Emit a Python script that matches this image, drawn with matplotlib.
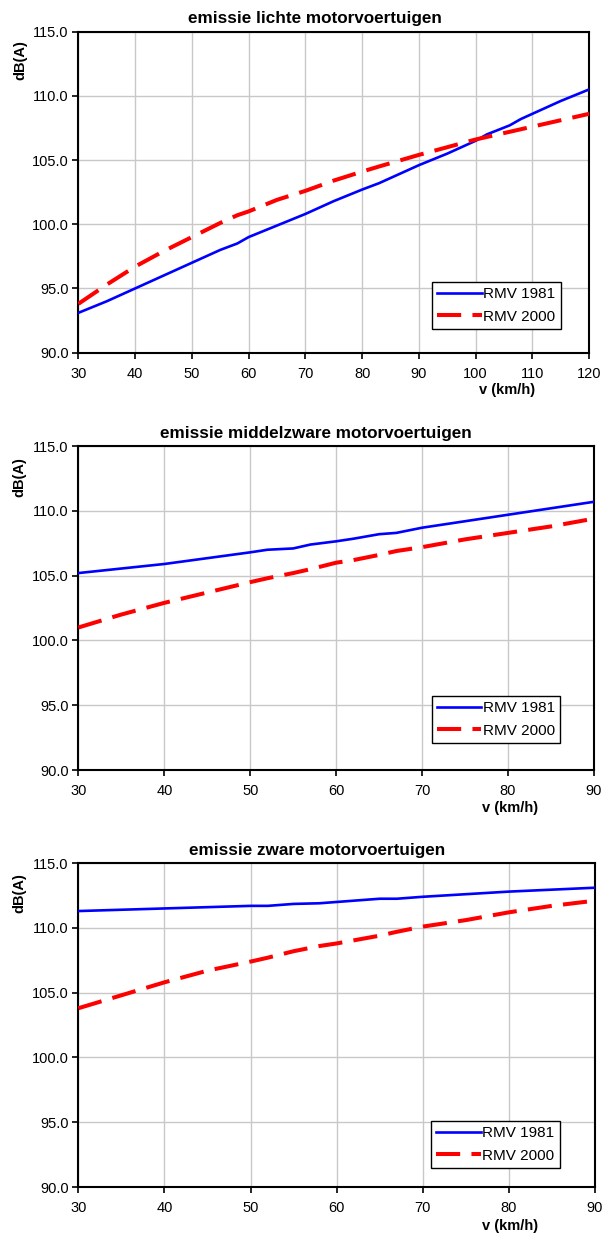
import matplotlib
matplotlib.use("Agg")
import matplotlib.pyplot as plt

plt.rcParams['font.family'] = ['Liberation Sans', 'DejaVu Sans']

# Panel 1: lichte motorvoertuigen
v1 = [30, 35, 40, 45, 50, 55, 58, 60, 65, 70, 75, 80, 83, 90, 95, 100, 102, 106, 108, 110, 115, 120]
l1_1981 = [93.1, 94.0, 95.0, 96.0, 97.0, 98.0, 98.5, 99.0, 99.9, 100.8, 101.8, 102.7, 103.2, 104.6, 105.5, 106.5, 107.0, 107.7, 108.2, 108.6, 109.6, 110.5]
l1_2000 = [93.8, 95.3, 96.7, 97.9, 99.0, 100.1, 100.7, 101.0, 101.9, 102.6, 103.4, 104.1, 104.5, 105.4, 106.0, 106.6, 106.8, 107.2, 107.4, 107.6, 108.1, 108.6]

# Panel 2: middelzware motorvoertuigen
v2 = [30, 35, 40, 45, 50, 52, 55, 57, 60, 62, 65, 67, 70, 75, 80, 85, 90]
m_1981 = [105.2, 105.55, 105.9, 106.35, 106.8, 107.0, 107.1, 107.4, 107.65, 107.85, 108.2, 108.3, 108.7, 109.2, 109.7, 110.2, 110.7]
m_2000 = [101.0, 102.0, 102.9, 103.7, 104.5, 104.8, 105.2, 105.5, 106.0, 106.2, 106.6, 106.9, 107.2, 107.8, 108.3, 108.8, 109.4]

# Panel 3: zware motorvoertuigen
v3 = [30, 35, 40, 45, 50, 52, 55, 58, 60, 65, 67, 70, 75, 80, 85, 90]
z_1981 = [111.3, 111.4, 111.5, 111.6, 111.7, 111.7, 111.85, 111.9, 112.0, 112.25, 112.25, 112.4, 112.6, 112.8, 112.95, 113.1]
z_2000 = [103.8, 104.8, 105.8, 106.7, 107.4, 107.7, 108.2, 108.6, 108.8, 109.4, 109.7, 110.1, 110.6, 111.2, 111.7, 112.1]

titles = ["emissie lichte motorvoertuigen",
          "emissie middelzware motorvoertuigen",
          "emissie zware motorvoertuigen"]
labels = ["RMV 1981", "RMV 2000"]
yticks = [90, 95, 100, 105, 110, 115]

panels = [
    (v1, l1_1981, l1_2000, (30, 120), list(range(30, 121, 10))),
    (v2, m_1981, m_2000, (30, 90), list(range(30, 91, 10))),
    (v3, z_1981, z_2000, (30, 90), list(range(30, 91, 10))),
]

positions = [
    [0.130, 0.7147, 0.847, 0.2597],
    [0.130, 0.377, 0.855, 0.2621],
    [0.130, 0.0396, 0.8566, 0.2621],
]
xlabel_xy = [(0.8386, -0.096), (0.837, -0.095), (0.835, -0.100)]
ylabel_xy = [(-0.100, 0.912), (-0.100, 0.905), (-0.100, 0.907)]
title_x = [0.463, 0.461, 0.462]
legend_anchor = [(0.944, 0.074), (0.935, 0.083), (0.932, 0.059)]

fig = plt.figure(figsize=(6.03, 12.36), dpi=100)
for i, (x, a, b, xlim, xt) in enumerate(panels):
    ax = fig.add_axes(positions[i])
    ax.plot(x, a, color='#0000FF', lw=1.9, label=labels[0], zorder=3)
    ax.plot(x, b, color='#FF0000', lw=2.9, label=labels[1], dashes=(6, 2.8), zorder=3)
    ax.set_xlim(*xlim)
    ax.set_ylim(90, 115)
    ax.set_xticks(xt)
    ax.set_yticks(yticks)
    ax.set_yticklabels([f"{t:.1f}" for t in yticks])
    ax.grid(True, color='#C8C8C8', lw=1.0, zorder=0)
    ax.set_axisbelow(True)
    for s in ax.spines.values():
        s.set_linewidth(1.5)
        s.set_color('black')
    ax.tick_params(axis='both', labelsize=10.5, length=4, width=1.2, direction='out', pad=3)
    ax.tick_params(axis='x', pad=6)
    ax.set_title(titles[i], fontsize=12.3, fontweight='bold', pad=6, x=title_x[i])
    ax.set_xlabel("v (km/h)", fontsize=10.5, fontweight='bold')
    ax.xaxis.set_label_coords(*xlabel_xy[i])
    ax.set_ylabel("dB(A)", fontsize=10.5, fontweight='bold')
    ax.yaxis.set_label_coords(*ylabel_xy[i])
    leg = ax.legend(loc='lower right', bbox_to_anchor=legend_anchor[i], fontsize=11,
                    handlelength=2.9, handletextpad=0.1, labelspacing=0.55,
                    borderpad=0.35, borderaxespad=0, fancybox=False, framealpha=1,
                    edgecolor='black')
    leg.get_frame().set_linewidth(1.0)

fig.savefig("out.png", dpi=100)
